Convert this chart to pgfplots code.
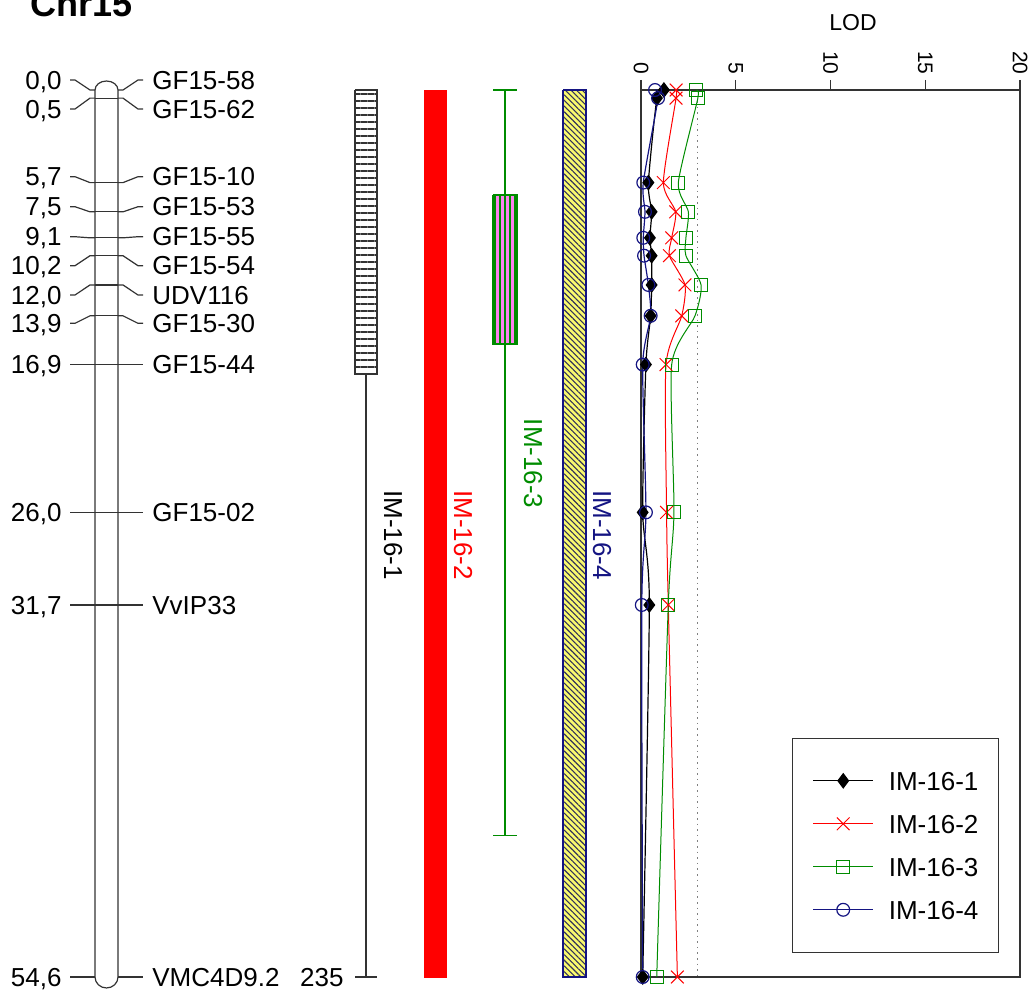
\documentclass[border=0pt]{standalone}
\usepackage{fontspec}
\setmainfont{Liberation Sans}
\usepackage{pgfplots}
\usepackage{pgfplotstable}
\pgfplotsset{compat=1.18}
\usetikzlibrary{patterns.meta}

\definecolor{qgreen}{RGB}{0,140,0}
\definecolor{qnavy}{RGB}{20,20,130}
\definecolor{qpink}{RGB}{255,130,240}
\definecolor{qyellow}{RGB}{250,250,110}
\definecolor{qhatch}{RGB}{50,50,90}

\newcommand\lab{\fontsize{13}{15}\selectfont}
\tikzset{chrom/.style={draw=black!80, line width=0.6pt}}

\pgfplotstableread{
cm   lod1 lod2 lod3 lod4
0.0  1.21 1.85 2.90 0.74
0.5  0.84 1.85 3.00 0.90
5.7  0.39 1.18 1.97 0.12
7.5  0.56 1.83 2.50 0.21
9.1  0.47 1.62 2.37 0.12
10.2 0.56 1.50 2.37 0.16
12.0 0.56 2.32 3.17 0.39
13.9 0.51 2.15 2.85 0.51
16.9 0.26 1.32 1.62 0.09
26.0 0.09 1.35 1.74 0.26
31.7 0.44 1.44 1.44 0.04
54.6 0.09 1.92 0.83 0.09
}\lodtable

% #1 marker cM, #2 label cM, #3 left text, #4 right text
\newcommand\mk[4]{%
 \draw[chrom] (axis cs:70,#2) -- (axis cs:75,#2) -- (axis cs:90,#1) -- (axis cs:95,#1);
 \draw[chrom] (axis cs:118,#1) -- (axis cs:123,#1) -- (axis cs:138,#2) -- (axis cs:143,#2);
 \node[font=\lab, anchor=mid east, inner sep=0pt, yshift=-2pt] at (axis cs:62,#2) {#3};
 \node[font=\lab, anchor=mid west, inner sep=0pt, yshift=-2pt] at (axis cs:152,#2) {#4};
}
\newcommand\mkin[1]{\draw[chrom] (axis cs:95,#1) -- (axis cs:118,#1);}

\begin{document}
\begin{tikzpicture}
\begin{axis}[name=A, at={(0,0)}, anchor=south west, scale only axis,
  width=514.5pt, height=495pt, xmin=0, xmax=1029, ymin=-5.540, ymax=55.402,
  y dir=reverse, hide axis, clip=false]
 % titles
 \node[font=\fontsize{18}{20}\selectfont\bfseries, anchor=base west, inner sep=0pt] at (axis cs:30,-4.555) {Chr15};
 \node[font=\fontsize{11.5}{13}\selectfont, inner sep=0pt] at (axis cs:853,-4.12) {LOD};
 % chromosome
 \draw[chrom] (axis cs:95,0) -- (axis cs:95,54.6)
   arc[start angle=180, end angle=360, x radius=5.75pt, y radius=5.5pt]
   -- (axis cs:118,0)
   arc[start angle=0, end angle=180, x radius=5.75pt, y radius=4.5pt] -- cycle;
 \mkin{0.5}\mkin{5.7}\mkin{7.5}\mkin{9.1}\mkin{10.2}\mkin{12.0}\mkin{13.9}\mkin{16.9}\mkin{26.0}\mkin{31.7}
 \mk{0.0}{-0.616}{0,0}{GF15-58}
 \mk{0.5}{1.170}{0,5}{GF15-62}
 \mk{5.7}{5.337}{5,7}{GF15-10}
 \mk{7.5}{7.184}{7,5}{GF15-53}
 \mk{9.1}{9.031}{9,1}{GF15-55}
 \mk{10.2}{10.816}{10,2}{GF15-54}
 \mk{12.0}{12.619}{12,0}{UDV116}
 \mk{13.9}{14.361}{13,9}{GF15-30}
 \mk{16.9}{16.9}{16,9}{GF15-44}
 \mk{26.0}{26.0}{26,0}{GF15-02}
 \mk{31.7}{31.7}{31,7}{VvIP33}
 \mk{54.6}{54.6}{54,6}{VMC4D9.2}
 \node[font=\lab, anchor=mid east, inner sep=0pt, yshift=-2pt] at (axis cs:344,54.6) {235};
 % QTL IM-16-1
 \addplot[black!80, line width=0.6pt] coordinates {(366,17.48) (366,54.6)};
 \addplot[black!80, line width=0.6pt] coordinates {(355,54.6) (377,54.6)};
 \addplot[draw=black!80, line width=0.6pt, fill=white,
   postaction={pattern={Lines[angle=0,distance=3.5pt,line width=0.9pt]}, pattern color=black!80}]
   coordinates {(355,0) (377,0) (377,17.48) (355,17.48) (355,0)};
 % QTL IM-16-2
 \addplot[draw=red, fill=red, line width=0.4pt] coordinates {(424,0) (446,0) (446,54.6) (424,54.6) (424,0)};
 % QTL IM-16-3
 \addplot[qgreen, line width=0.6pt] coordinates {(505,0) (505,45.9)};
 \addplot[qgreen, line width=0.6pt] coordinates {(493,0) (517,0)};
 \addplot[qgreen, line width=0.6pt] coordinates {(493,45.9) (517,45.9)};
 \addplot[draw=qgreen, fill=qpink, line width=0.6pt,
   postaction={pattern={Lines[angle=90,distance=2.5pt,line width=0.6pt]}, pattern color=qgreen}]
   coordinates {(493,6.46) (517,6.46) (517,15.64) (493,15.64) (493,6.46)};
 % QTL IM-16-4
 \addplot[draw=qnavy, fill=qyellow, line width=0.6pt,
   postaction={pattern={Lines[angle=-45,distance=2pt,line width=0.55pt]}, pattern color=qhatch}]
   coordinates {(563,0) (586,0) (586,54.6) (563,54.6) (563,0)};
 % QTL labels
 \node[font=\lab, rotate=-90, inner sep=0pt, text=black] at (axis cs:393,27.4) {IM-16-1};
 \node[font=\lab, rotate=-90, inner sep=0pt, text=red] at (axis cs:463,27.4) {IM-16-2};
 \node[font=\lab, rotate=-90, inner sep=0pt, text=qgreen] at (axis cs:533,23.0) {IM-16-3};
 \node[font=\lab, rotate=-90, inner sep=0pt, text=qnavy] at (axis cs:602,27.4) {IM-16-4};
\end{axis}

\begin{axis}[name=L, at={(320.5pt,450pt)}, anchor=north west, scale only axis,
  width=189.5pt, height=443.5pt, xmin=0, xmax=20, ymin=0, ymax=54.6,
  y dir=reverse, clip=false,
  xtick={0,5,10,15,20}, ytick=\empty,
  xtick pos=right, xticklabel pos=right,
  tick align=outside, major tick length=5pt,
  xtick style={black!80, line width=0.6pt},
  axis line style={black!80, line width=0.6pt},
  x tick label style={rotate=-90, anchor=east, inner sep=2.5pt, font=\fontsize{10.5}{12}\selectfont},
  /pgf/number format/assume math mode=true,
  legend cell align=left,
  legend image code/.code={\draw[mark repeat=2, mark phase=2, #1] plot coordinates {(0pt,0pt) (15pt,0pt) (30pt,0pt)};},
  legend style={at={(0.9446,0.2698)}, anchor=north east, draw=black!80, line width=0.6pt,
    font=\lab, inner xsep=10pt, inner ysep=16.5pt, row sep=12pt, column sep=7.5pt,
    nodes={inner sep=0pt, text height=9.5pt, text depth=0pt}},
]
 \addplot[gray, line width=0.6pt, dash pattern=on 0.8pt off 2pt, forget plot] coordinates {(3,0) (3,54.6)};
 \addplot[black, line width=0.6pt, smooth, tension=0.4, mark=diamond*, mark size=3.5pt,
   mark options={solid, fill=black}] table[x=lod1, y=cm] \lodtable;
 \addlegendentry{IM-16-1}
 \addplot[red, line width=0.5pt, smooth, tension=0.4, mark=x, mark size=4.5pt,
   mark options={solid}] table[x=lod2, y=cm] \lodtable;
 \addlegendentry{IM-16-2}
 \addplot[qgreen, line width=0.5pt, smooth, tension=0.4, mark=square, mark size=3.25pt,
   mark options={solid}] table[x=lod3, y=cm] \lodtable;
 \addlegendentry{IM-16-3}
 \addplot[qnavy, line width=0.6pt, smooth, tension=0.4, mark=o, mark size=3.2pt,
   mark options={solid}] table[x=lod4, y=cm] \lodtable;
 \addlegendentry{IM-16-4}
\end{axis}
\pgfresetboundingbox
\path[use as bounding box] (A.south west) rectangle (A.north east);
\end{tikzpicture}
\end{document}
